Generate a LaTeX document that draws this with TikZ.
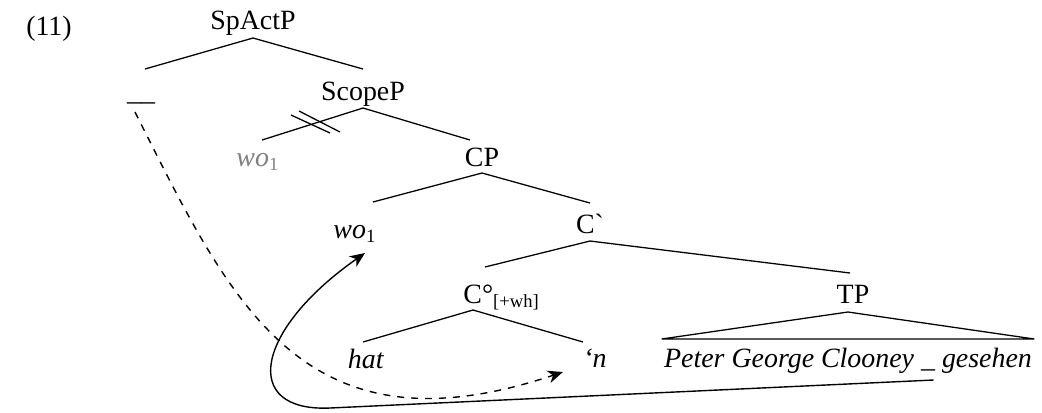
\documentclass[tikz,border=0pt]{standalone}
\usepackage{fontspec}
\setmainfont{Liberation Serif}
\usetikzlibrary{calc,arrows.meta}

\begin{document}
\begin{tikzpicture}[x=0.43pt,y=-0.43pt,
    lbl/.style={anchor=base,inner sep=0pt,font=\fontsize{12}{14}\selectfont},
    branch/.style={line width=0.55pt},
    move/.style={line width=0.6pt,-{Stealth[length=6.5pt,width=5.5pt,inset=2pt]}}]
    \useasboundingbox (0,0) rectangle (1042,412);
    % labels
    \node[lbl] (ex) at (49,35) {(11)};
    \node[lbl] (spact) at (253,29) {SpActP};
    \node[lbl] (gap) at (141,100) {\_\_};
    \node[lbl] (scope) at (363,100) {ScopeP};
    \node[lbl,text=gray] (wolow) at (258,166) {\textit{wo}\textsubscript{1}};
    \node[lbl] (cp) at (482,166) {CP};
    \node[lbl] (wo) at (355,238) {\textit{wo}\textsubscript{1}};
    \node[lbl] (cbar) at (590,233) {C\textasciigrave};
    \node[lbl,anchor=base west] (c0) at (463,303) {C°\textsubscript{[+wh]}};
    \node[lbl] (tp) at (853,303) {TP};
    \node[lbl] (hat) at (366,368) {\textit{hat}};
    \node[lbl] (n) at (595,367) {\textit{‘n}};
    \node[lbl] (peter) at (848,367) {\textit{Peter George Clooney \_ gesehen}};
    % branches
    \draw[branch] ($(spact.base)+(0,9)$) -- ($(gap.base)+(4,-31)$);
    \draw[branch] ($(spact.base)+(0,9)$) -- ($(scope.base)+(0,-31)$);
    \draw[branch] ($(scope.base)+(0,8)$) -- ($(wolow.base)+(4,-26)$);
    \draw[branch] ($(scope.base)+(0,8)$) -- ($(cp.base)+(-12,-26)$);
    \draw[branch] ($(cp.base)+(0,7)$) -- ($(wo.base)+(18,-36)$);
    \draw[branch] ($(cp.base)+(0,7)$) -- ($(cbar.base)+(0,-30)$);
    \draw[branch] ($(cbar.base)+(0,8)$) -- ($(c0.base west)+(22,-36)$);
    \draw[branch] ($(cbar.base)+(0,8)$) -- ($(tp.base)+(-3,-30)$);
    \draw[branch] ($(c0.base west)+(10,7)$) -- ($(hat.base)+(-3,-26)$);
    \draw[branch] ($(c0.base west)+(10,7)$) -- ($(n.base)+(-12,-25)$);
    \draw[branch] ($(tp.base)+(-5,9)$) -- ($(peter.base west)+(-2,-28)$)
        -- ($(peter.base east)+(2,-28)$) -- cycle;
    % blocked step
    \draw[branch] (291,115) -- (330,133);
    \draw[branch] (299,111) -- (340,132);
    % movements
    \draw[move,dashed] ($(gap.base)+(-6,12)$) .. controls (230,300) and (300,460) .. ($(n.base west)+(-20,5)$);
    \draw[move] ($(peter.base west)+(270,13)$) -- (330,408)
        .. controls (240,412) and (255,330) .. ($(wo.base)+(10,15)$);
\end{tikzpicture}
\end{document}
